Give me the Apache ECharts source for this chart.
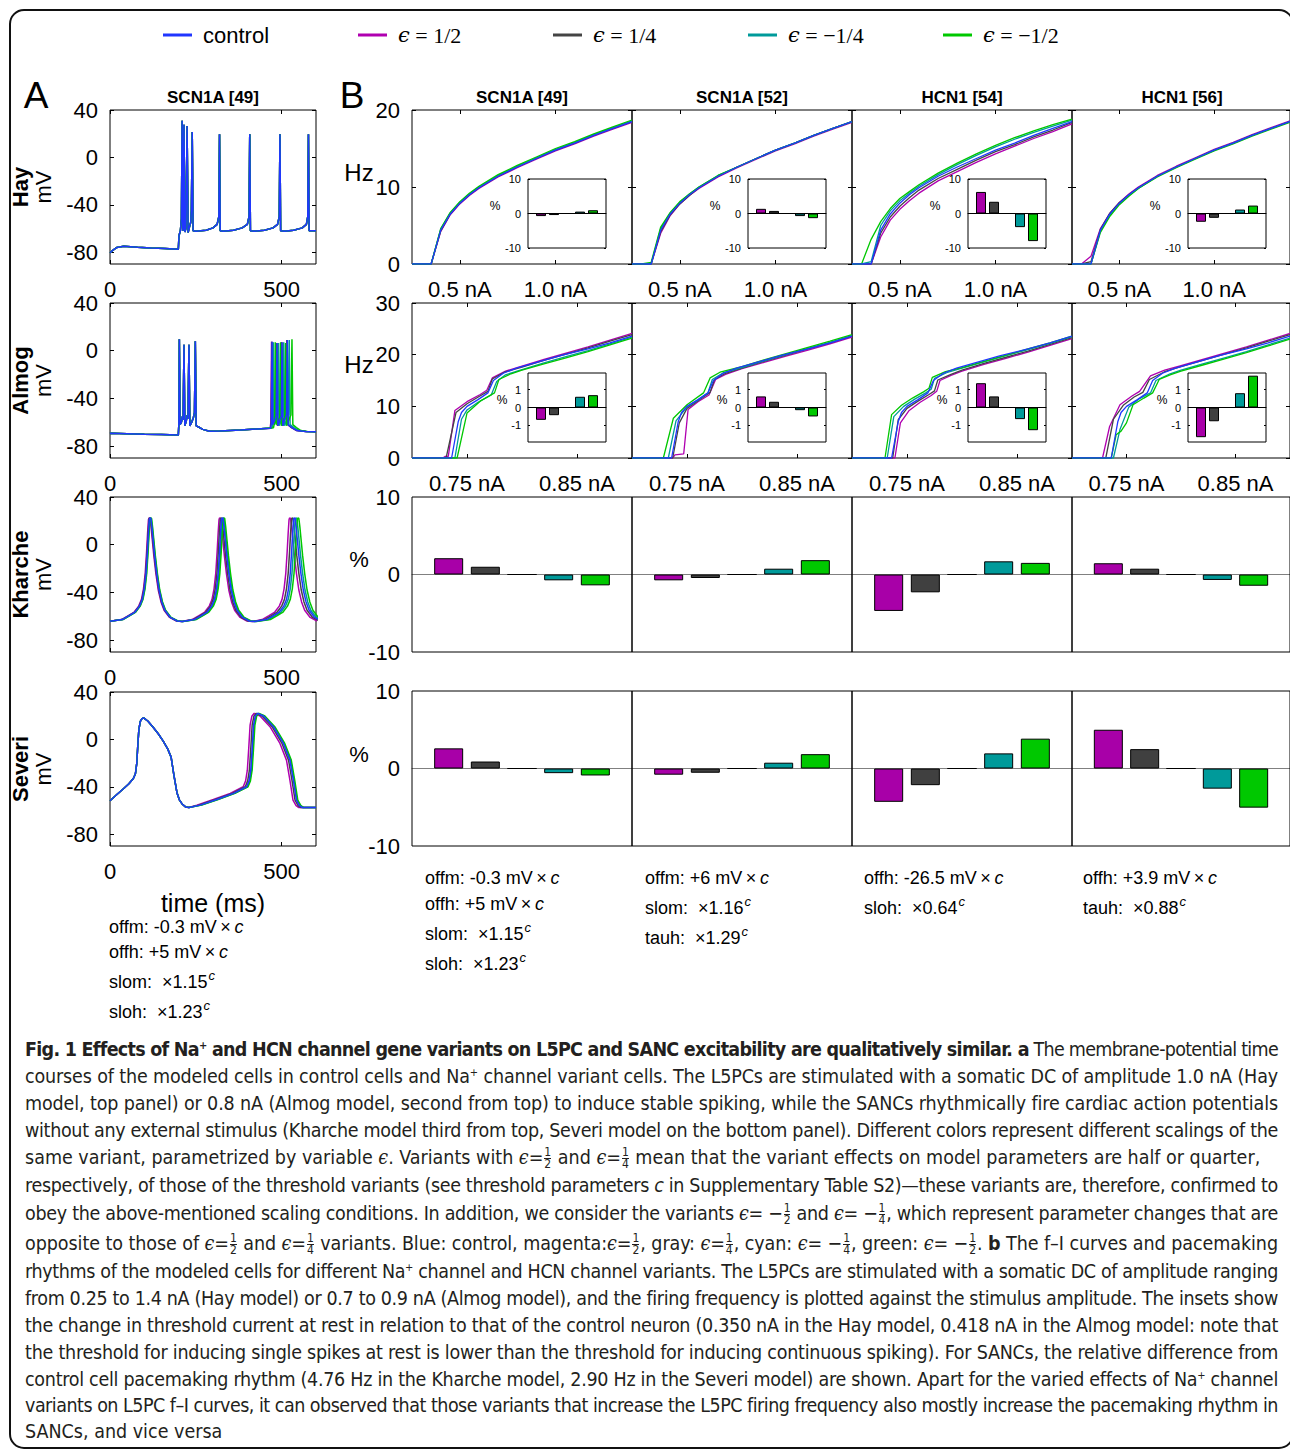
<!DOCTYPE html>
<html><head><meta charset="utf-8">
<script src="https://cdn.jsdelivr.net/npm/echarts@6/dist/echarts.min.js"></script>
<style>
html,body{margin:0;padding:0;background:#fff;}
#chart{position:absolute;left:0;top:0;width:1290px;height:1450px;}
#cap{position:absolute;left:0;top:0;width:1290px;height:1450px;pointer-events:none;
 font-family:'Liberation Sans Narrow','DejaVu Sans Condensed','Roboto Condensed','Liberation Sans',sans-serif;
 font-stretch:condensed;font-size:19.5px;color:#231f20;}
.ln{position:absolute;left:25px;white-space:nowrap;line-height:24px;height:24px;}
.ln b{font-weight:bold;}
sup{font-size:11px;vertical-align:7px;line-height:0;}
.fr{display:inline-flex;flex-direction:column;vertical-align:middle;font-size:12px;line-height:11px;text-align:center;margin:0 1px;}
.fr span:first-child{border-bottom:1px solid #231f20;}
.ep{font-style:italic;font-family:'DejaVu Serif','Liberation Serif',serif;}
</style></head><body>
<div id="chart"></div>
<div id="cap">
<div class="ln j" style="top:1038px"><span><b>Fig. 1 Effects of Na<sup>+</sup> and HCN channel gene variants on L5PC and SANC excitability are qualitatively similar. a</b> The membrane-potential time</span></div>
<div class="ln j" style="top:1065px"><span>courses of the modeled cells in control cells and Na<sup>+</sup> channel variant cells. The L5PCs are stimulated with a somatic DC of amplitude 1.0 nA (Hay</span></div>
<div class="ln j" style="top:1092px"><span>model, top panel) or 0.8 nA (Almog model, second from top) to induce stable spiking, while the SANCs rhythmically fire cardiac action potentials</span></div>
<div class="ln j" style="top:1119px"><span>without any external stimulus (Kharche model third from top, Severi model on the bottom panel). Different colors represent different scalings of the</span></div>
<div class="ln" style="top:1146px"><span>same variant, parametrized by variable <span class="ep">ϵ</span>. Variants with <span class="ep">ϵ</span>=<span class="fr"><span>1</span><span>2</span></span> and <span class="ep">ϵ</span>=<span class="fr"><span>1</span><span>4</span></span> mean that the variant effects on model parameters are half or quarter,</span></div>
<div class="ln j" style="top:1174px"><span>respectively, of those of the threshold variants (see threshold parameters <i>c</i> in Supplementary Table S2)—these variants are, therefore, confirmed to</span></div>
<div class="ln j" style="top:1202px"><span>obey the above-mentioned scaling conditions. In addition, we consider the variants <span class="ep">ϵ</span>= −<span class="fr"><span>1</span><span>2</span></span> and <span class="ep">ϵ</span>= −<span class="fr"><span>1</span><span>4</span></span>, which represent parameter changes that are</span></div>
<div class="ln j" style="top:1232px"><span>opposite to those of <span class="ep">ϵ</span>=<span class="fr"><span>1</span><span>2</span></span> and <span class="ep">ϵ</span>=<span class="fr"><span>1</span><span>4</span></span> variants. Blue: control, magenta:<span class="ep">ϵ</span>=<span class="fr"><span>1</span><span>2</span></span>, gray: <span class="ep">ϵ</span>=<span class="fr"><span>1</span><span>4</span></span>, cyan: <span class="ep">ϵ</span>= −<span class="fr"><span>1</span><span>4</span></span>, green: <span class="ep">ϵ</span>= −<span class="fr"><span>1</span><span>2</span></span>. <b>b</b> The f–I curves and pacemaking</span></div>
<div class="ln j" style="top:1260px"><span>rhythms of the modeled cells for different Na<sup>+</sup> channel and HCN channel variants. The L5PCs are stimulated with a somatic DC of amplitude ranging</span></div>
<div class="ln j" style="top:1287px"><span>from 0.25 to 1.4 nA (Hay model) or 0.7 to 0.9 nA (Almog model), and the firing frequency is plotted against the stimulus amplitude. The insets show</span></div>
<div class="ln j" style="top:1314px"><span>the change in threshold current at rest in relation to that of the control neuron (0.350 nA in the Hay model, 0.418 nA in the Almog model: note that</span></div>
<div class="ln j" style="top:1341px"><span>the threshold for inducing single spikes at rest is lower than the threshold for inducing continuous spiking). For SANCs, the relative difference from</span></div>
<div class="ln j" style="top:1368px"><span>control cell pacemaking rhythm (4.76 Hz in the Kharche model, 2.90 Hz in the Severi model) are shown. Apart for the varied effects of Na<sup>+</sup> channel</span></div>
<div class="ln j" style="top:1394px"><span>variants on L5PC f–I curves, it can observed that those variants that increase the L5PC firing frequency also mostly increase the pacemaking rhythm in</span></div>
<div class="ln" style="top:1420px"><span>SANCs, and vice versa</span></div>
</div>
<script>
// ---------------- DATA ----------------
const legendNames = ['control', 'ϵ = 1/2', 'ϵ = 1/4', 'ϵ = −1/4', 'ϵ = −1/2'];
const lineColors = ['#2036ff', '#b000b0', '#444444', '#009a9a', '#00c800'];
const barColors = ['#a800a8', '#404040', '#2036ff', '#009a9a', '#00c800']; // m, g, control, c, n
const barX = [1, 2, 3, 4, 5];
const colTitles = ['SCN1A [49]', 'SCN1A [52]', 'HCN1 [54]', 'HCN1 [56]'];
const rowNamesA = ['Hay', 'Almog', 'Kharche', 'Severi'];

// Panel A — Hay (all variants overlap)
const hayTrace = [[0,-80.5],[8,-78.5],[20,-76],[40,-75],[80,-75.8],[120,-76.5],[160,-77],[199,-77.5],[201,-66],[205,-62],[208,-52],[210,31],[212,-62],[213.5,-60],[215.5,27.5],[218,-63],[221,-60],[224.5,26.5],[227.5,-63.5],[232,-58],[235,-55],[237,-45],[239.5,21.5],[242,-62],[250,-62.3],[280,-61.5],[300,-59.5],[312,-56.5],[317,-50],[319,19.5],[321,-62],[330,-62.3],[360,-61.5],[385,-59.5],[400,-56.5],[405,-50],[407,19.5],[409,-62],[420,-62.3],[450,-61.5],[475,-59.5],[488,-56.5],[493,-50],[495,19.5],[497,-62],[508,-62.3],[535,-61.5],[560,-59.5],[572,-56.5],[576,-50],[578,19.5],[580,-62],[600,-62]];

// Panel A — Almog
const almogPre = [[0,-69.5],[3,-69.2],[50,-69.6],[100,-70],[150,-70.3],[199,-70.7],[200.5,-62],[202,9.5],[204,-62],[208,-60],[211,-55],[213,-58],[215.5,5],[218,-63],[222,-59],[225,-54],[227,-57],[230,5],[232.5,-63],[238,-60],[243,-56],[246,-52],[248.5,8],[251,-63],[258,-64],[270,-66],[290,-67.5],[320,-67.3],[380,-66.5],[440,-65.5]];
const almogB_ctrl = [[468,-65],[470,-60],[472,7.5],[474,-62],[480,-58],[484,-55],[486.5,6.5],[489,-63],[495,-58],[499,-55],[501,7],[503.5,-63],[509,-58],[514,-54],[516.5,9],[519,-62],[530,-64.5],[545,-67],[570,-67.8],[600,-68]];
const almogB_m = [[466.5,-65],[468.5,-60],[470.5,7.5],[472.5,-62],[478.5,-58],[482.5,-55],[485,6.5],[487.5,-63],[493.5,-58],[497.5,-55],[499.5,7],[502,-63],[507.5,-58],[512.5,-54],[515,9],[517.5,-62],[528.5,-64.5],[543.5,-67],[570,-67.8],[600,-68]];
const almogB_g = [[467.5,-65],[469.5,-60],[471.5,7.5],[473.5,-62],[479.5,-58],[483.5,-55],[486,6.5],[488.5,-63],[494.5,-58],[498.5,-55],[500.5,7],[503,-63],[508.5,-58],[513.5,-54],[516,9],[518.5,-62],[529.5,-64.5],[544.5,-67],[570,-67.8],[600,-68]];
const almogB_c = [[472,-64.8],[474,-60],[476,7],[478.5,-62],[484,-58],[488.5,-55],[491,6.5],[493.5,-63],[499,-58],[503.5,-55],[506,7],[508.5,-63],[515,-58],[519.5,-54],[522,9],[524.5,-62],[536,-64.5],[550,-67],[572,-67.8],[600,-68]];
const almogB_n = [[476,-64.6],[479.5,-60],[481.5,7],[484,-62],[490,-58],[494.5,-55],[497,7],[499.5,-63],[505,-58],[509,-55],[511.5,6.5],[514,-63],[521,-58],[527,-54],[530,9.5],[532.5,-62],[543,-64.5],[556,-67],[575,-67.8],[600,-68]];

// Panel A — Kharche (shared voltage shape, per-variant times)
const kV = [-64.3,-62.8,-59.5,-56.5,-51.5,-46,-37,-24,-6,10,21,22.5,22,15,3,-9,-24,-38,-48,-55,-61,-64,-64.5, -62.8,-59.5,-56.5,-51.5,-46,-37,-24,-6,10,21,22.5,22,15,3,-9,-24,-38,-48,-55,-61,-64,-64.5, -62.8,-59.5,-56.5,-51.5,-46,-37,-24,-6,10,21,22.5,22,15,3,-9,-24,-38,-48,-55,-61,-64];
const kT_ctrl = [0,36,56,73,86,94,100,105,109,112,114.5,116,119,122,126,130,136,143,151,160,176,196,211, 246,266,283,296,304,310,315,319,322,324.5,326,329,332,336,340,346,353,361,370,386,406,421, 456,476,493,506,514,520,525,529,532,534.5,536,539,542,546,550,556,563,571,580,596,616];
const kT_m = [0,33.5,53.5,70.5,83.5,91.5,97.5,102.5,106.5,109.5,112,113.5,116.5,119.5,123.5,127.5,133.5,140.5,148.5,157.5,173.5,193.5,208.5, 239,259,276,289,297,303,308,312,315,317.5,319,322,325,329,333,339,346,354,363,379,399,414, 443,463,480,493,501,507,512,516,519,521.5,523,526,529,533,537,543,550,558,567,583,603];
const kT_g = [0,35,55,72,85,93,99,104,108,111,113.5,115,118,121,125,129,135,142,150,159,175,195,210, 242.5,262.5,279.5,292.5,300.5,306.5,311.5,315.5,318.5,321,322.5,325.5,328.5,332.5,336.5,342.5,349.5,357.5,366.5,382.5,402.5,417.5, 450,470,487,500,508,514,519,523,526,528.5,530,533,536,540,544,550,557,565,574,590,610];
const kT_c = [0,37,57,74,87,95,101,106,110,113,115.5,117,120,123,127,131,137,144,152,161,177,197,212, 248.5,268.5,285.5,298.5,306.5,312.5,317.5,321.5,324.5,327,328.5,331.5,334.5,338.5,342.5,348.5,355.5,363.5,372.5,388.5,408.5,423.5, 461,481,498,511,519,525,530,534,537,539.5,541,544,547,551,555,561,568,576,585,601,621];
const kT_n = [0,38,58,75,88,96,102,107,111,114,116.5,118,121,124,128,132,138,145,153,162,178,198,213, 251,271,288,301,309,315,320,324,327,329.5,331,334,337,341,345,351,358,366,375,391,411,426, 467,487,504,517,525,531,536,540,543,545.5,547,550,553,557,561,567,574,582,591,607,627];

// Panel A — Severi (shared voltage shape, first cycle shared times, second part per variant)
const sevV = [-51.8,-46.5,-41.5,-37.5,-33,-29,-20,-5,8,15,17.5,18.2,15.5,10.5,5,-1.5,-8,-15,-30,-45,-51,-54.5,-57,-57.5, -55.5,-50.7,-45.6,-40,-35,-26,-8,12,19.5,22,19.7,10.7,-3.4,-17.5,-34.4,-51.3,-56,-57.5,-57.5,-57.5];
const sevT1 = [0,20,40,55,68,74,78,81,84,88,93,98,110,125,140,155,168,178,186,195,202,210,220,230];
const sevT2_ctrl = [263,311,360,398,405,410,414,418,423,430,447,476,505,524,534,543,552,560,580,600];
const sevT2_m = [253,301,350,388,395,400,404,408,413,420,437,466,495,514,524,533,542,550,570,600];
const sevT2_g = [259,307,356,394,401,406,410,414,419,426,443,472,501,520,530,539,548,556,576,600];
const sevT2_c = [265,313,362,400,407,412,416,420,425,432,449,478,507,526,536,545,554,562,582,600];
const sevT2_n = [267,315,364,402,409,414,418,422,427,434,451,480,509,528,538,547,556,564,584,600];

// Panel B row 1 — Hay f–I (current grid, Hz per variant)
const hayI = [0.25,0.30,0.35,0.40,0.45,0.50,0.55,0.60,0.70,0.80,0.90,1.00,1.10,1.20,1.30,1.40];
const hayCtrl = [0,0,0,4.4,6.5,7.9,9.0,9.9,11.4,12.6,13.7,14.8,15.7,16.7,17.6,18.5];
const hay49_m = [0,0,0,4.2,6.4,7.8,8.9,9.8,11.3,12.5,13.6,14.7,15.6,16.6,17.5,18.4];
const hay49_g = [0,0,0,4.3,6.5,7.9,9.0,9.9,11.4,12.6,13.7,14.8,15.7,16.7,17.6,18.5];
const hay49_c = [0,0,0,4.5,6.6,8.0,9.1,10.0,11.5,12.7,13.8,14.9,15.8,16.8,17.7,18.6];
const hay49_n = [0,0,0,4.6,6.7,8.1,9.2,10.1,11.6,12.8,13.9,15.0,15.9,16.9,17.8,18.7];
const hay52_m = [0,0,0,4.0,6.3,7.8,8.9,9.8,11.3,12.5,13.6,14.7,15.6,16.6,17.5,18.4];
const hay52_g = [0,0,0,4.2,6.4,7.8,8.9,9.9,11.4,12.6,13.7,14.8,15.7,16.7,17.6,18.5];
const hay52_c = [0,0,0,4.6,6.6,8.0,9.1,10.0,11.5,12.6,13.7,14.8,15.7,16.7,17.6,18.5];
const hay52_n = [0,0,0.2,4.8,6.7,8.1,9.1,10.0,11.5,12.6,13.7,14.8,15.7,16.7,17.6,18.5];
const hay54_m = [0,0,0,3.5,5.7,7.1,8.2,9.2,10.8,12.0,13.2,14.3,15.3,16.3,17.2,18.2];
const hay54_g = [0,0,0,4.0,6.1,7.5,8.6,9.6,11.1,12.3,13.5,14.6,15.5,16.5,17.4,18.4];
const hay54_c = [0,0,0.3,5.0,6.9,8.2,9.2,10.1,11.6,12.9,14.1,15.2,16.2,17.1,17.9,18.7];
const hay54_n = [0,0,3.2,5.5,7.2,8.5,9.4,10.3,11.8,13.1,14.3,15.4,16.4,17.3,18.1,18.8];
const hay56_m = [0,0,1.0,4.6,6.6,8.0,9.1,10.0,11.5,12.7,13.8,14.9,15.8,16.8,17.7,18.6];
const hay56_g = [0,0,0.3,4.5,6.6,8.0,9.0,9.9,11.4,12.6,13.7,14.8,15.7,16.7,17.6,18.5];
const hay56_c = [0,0,0,4.3,6.4,7.8,8.9,9.8,11.4,12.6,13.7,14.8,15.7,16.7,17.6,18.5];
const hay56_n = [0,0,0,4.1,6.2,7.7,8.8,9.8,11.3,12.5,13.6,14.7,15.6,16.6,17.5,18.4];

// Panel B row 2 — Almog f–I ([nA, Hz])
const almogCtrlFI = [[0.70,0],[0.736,0],[0.742,7],[0.745,8.8],[0.75,10],[0.76,11.3],[0.769,12.6],[0.774,15],[0.783,16.4],[0.795,17.4],[0.815,18.6],[0.835,19.8],[0.86,21.1],[0.88,22.3],[0.90,23.6]];
const alm49_m = [[0.70,0],[0.728,0],[0.73,0.3],[0.733,0.3],[0.739,9.2],[0.75,10.9],[0.762,12.3],[0.768,13.1],[0.773,15.5],[0.785,16.8],[0.80,17.8],[0.82,19.1],[0.84,20.3],[0.86,21.5],[0.88,22.8],[0.90,24.1]];
const alm49_g = [[0.70,0],[0.731,0],[0.74,8.8],[0.75,10.5],[0.761,11.9],[0.769,12.9],[0.773,15.3],[0.784,16.6],[0.80,17.6],[0.82,18.9],[0.84,20.1],[0.86,21.3],[0.88,22.6],[0.90,23.9]];
const alm49_c = [[0.70,0],[0.739,0],[0.745,7.5],[0.75,9.3],[0.76,10.8],[0.772,12.2],[0.777,14.8],[0.785,16.1],[0.80,17.1],[0.82,18.4],[0.84,19.6],[0.86,20.8],[0.88,22.1],[0.90,23.4]];
const alm49_n = [[0.70,0],[0.741,0],[0.75,8.7],[0.762,11.0],[0.775,12.6],[0.779,15.2],[0.79,16.3],[0.80,17.0],[0.82,18.2],[0.84,19.4],[0.86,20.6],[0.88,21.9],[0.90,23.2]];
const alm52_m = [[0.70,0],[0.737,0],[0.739,0.6],[0.747,0.8],[0.751,9.4],[0.76,10.9],[0.77,12.2],[0.776,15.2],[0.785,16.2],[0.80,17.3],[0.82,18.5],[0.84,19.7],[0.86,20.9],[0.88,22.1],[0.90,23.4]];
const alm52_g = [[0.70,0],[0.737,0],[0.743,6.8],[0.75,9.6],[0.762,11.4],[0.771,12.7],[0.775,15.2],[0.785,16.4],[0.80,17.4],[0.82,18.7],[0.84,19.9],[0.86,21.1],[0.88,22.3],[0.90,23.6]];
const alm52_c = [[0.70,0],[0.733,0],[0.74,7.2],[0.75,9.9],[0.76,11.2],[0.769,12.6],[0.773,15.2],[0.783,16.5],[0.80,17.5],[0.82,18.8],[0.84,20.0],[0.86,21.2],[0.88,22.4],[0.90,23.7]];
const alm52_n = [[0.70,0],[0.7285,0],[0.7376,7.7],[0.75,10.3],[0.765,12.6],[0.771,15.5],[0.78,16.6],[0.80,17.7],[0.82,19.0],[0.84,20.2],[0.86,21.4],[0.88,22.6],[0.90,23.9]];
const alm54_m = [[0.70,0],[0.739,0],[0.744,6.8],[0.752,9.2],[0.762,10.8],[0.772,12.1],[0.777,12.9],[0.78,15.0],[0.79,16.0],[0.80,16.8],[0.82,18.1],[0.84,19.3],[0.86,20.5],[0.88,21.8],[0.90,23.1]];
const alm54_g = [[0.70,0],[0.737,0],[0.742,7.4],[0.75,9.6],[0.76,11.0],[0.77,12.3],[0.775,13.0],[0.778,15.1],[0.79,16.2],[0.80,17.0],[0.82,18.3],[0.84,19.5],[0.86,20.7],[0.88,22.0],[0.90,23.3]];
const alm54_c = [[0.70,0],[0.732,0],[0.738,8.0],[0.747,10.0],[0.757,11.4],[0.767,12.6],[0.772,13.3],[0.775,15.4],[0.786,16.5],[0.80,17.4],[0.82,18.6],[0.84,19.8],[0.86,21.0],[0.88,22.2],[0.90,23.5]];
const alm54_n = [[0.70,0],[0.730,0],[0.736,8.4],[0.745,10.2],[0.755,11.6],[0.765,12.8],[0.77,13.5],[0.773,15.6],[0.785,16.7],[0.80,17.5],[0.82,18.7],[0.84,19.9],[0.86,21.1],[0.88,22.3],[0.90,23.6]];
const alm56_m = [[0.70,0],[0.728,0],[0.7345,6.1],[0.744,10.3],[0.755,12.0],[0.762,12.9],[0.768,14.7],[0.772,15.9],[0.785,17.0],[0.80,17.9],[0.82,19.1],[0.84,20.3],[0.86,21.5],[0.88,22.8],[0.90,24.1]];
const alm56_g = [[0.70,0],[0.731,0],[0.738,7.5],[0.747,10.2],[0.757,11.8],[0.765,12.7],[0.771,15.2],[0.785,16.7],[0.80,17.7],[0.82,18.9],[0.84,20.1],[0.86,21.3],[0.88,22.6],[0.90,23.9]];
const alm56_c = [[0.70,0],[0.738,0],[0.744,5.5],[0.752,9.8],[0.762,11.5],[0.772,12.6],[0.777,15.0],[0.79,16.3],[0.80,17.0],[0.82,18.2],[0.84,19.4],[0.86,20.6],[0.88,21.9],[0.90,23.2]];
const alm56_n = [[0.70,0],[0.736,0],[0.7405,4.5],[0.745,5.2],[0.75,6.8],[0.756,10.3],[0.766,11.6],[0.774,12.6],[0.78,15.2],[0.79,16.1],[0.80,16.8],[0.82,18.0],[0.84,19.2],[0.86,20.4],[0.88,21.7],[0.90,23.0]];

// Bars (order: ϵ=1/2, ϵ=1/4, control, ϵ=−1/4, ϵ=−1/2), % change
const insetHay = [[-0.75,-0.45,0,0.55,0.95],[1.35,0.75,0,-0.75,-1.35],[6.25,3.4,0,-3.95,-8.0],[-2.4,-1.25,0,1.15,2.3]];
const insetAlmog = [[-0.69,-0.43,0,0.6,0.69],[0.62,0.32,0,-0.15,-0.5],[1.36,0.62,0,-0.65,-1.27],[-1.66,-0.77,0,0.8,1.78]];
const kharcheBars = [[2.1,1.0,0,-0.75,-1.4],[-0.75,-0.45,0,0.75,1.85],[-4.7,-2.3,0,1.7,1.5],[1.45,0.75,0,-0.7,-1.45]];
const severiBars = [[2.6,0.9,0,-0.6,-0.9],[-0.8,-0.55,0,0.75,1.85],[-4.3,-2.15,0,1.95,3.85],[5.0,2.5,0,-2.6,-5.05]];

// Parameter notes
const notesA = ['offm: -0.3 mV\u2009{x|×}\u2009{i|c}', 'offh: +5 mV\u2009{x|×}\u2009{i|c}', 'slom:  {x|×}1.15{s|c}', 'sloh:  {x|×}1.23{s|c}'];
const notesB = [
  ['offm: -0.3 mV\u2009{x|×}\u2009{i|c}', 'offh: +5 mV\u2009{x|×}\u2009{i|c}', 'slom:  {x|×}1.15{s|c}', 'sloh:  {x|×}1.23{s|c}'],
  ['offm: +6 mV\u2009{x|×}\u2009{i|c}', 'slom:  {x|×}1.16{s|c}', 'tauh:  {x|×}1.29{s|c}'],
  ['offh: -26.5 mV\u2009{x|×}\u2009{i|c}', 'sloh:  {x|×}0.64{s|c}'],
  ['offh: +3.9 mV\u2009{x|×}\u2009{i|c}', 'tauh:  {x|×}0.88{s|c}']
];

// ---------------- BUILD ----------------
const FONT = "'Liberation Sans', Arial, Helvetica, sans-serif";
const grids = [], xAxes = [], yAxes = [], series = [], graphics = [];

function plot(o) {
  const gi = grids.length;
  grids.push({left:o.l, top:o.t, width:o.w, height:o.h, show:true, borderColor:'#000', borderWidth:1,
    backgroundColor:o.bg || 'rgba(0,0,0,0)', z:o.z || 2});
  const az = o.az || 0, fs = o.fs || 22;
  const xi = xAxes.length;
  xAxes.push({type:'value', gridIndex:gi, min:o.xr[0], max:o.xr[1], position:'bottom', z:az,
    axisLine:{show:!!o.zeroLine, onZero:!!o.zeroLine, lineStyle:{color:o.zeroLine || '#000', width:1}},
    splitLine:{show:false},
    axisTick:{show:!!o.xt, inside:true, length:4, customValues:o.xt, lineStyle:{color:'#000'}},
    axisLabel:{show:!!o.xl, customValues:o.xt, formatter:o.xl || '{value}', margin:14, color:'#000', fontSize:fs, fontFamily:FONT},
    name:o.xname || '', nameLocation:'middle', nameGap:o.xnameGap || 40,
    nameTextStyle:{fontSize:25, color:'#000', fontFamily:FONT}});
  if (o.xt) xAxes.push({type:'value', gridIndex:gi, min:o.xr[0], max:o.xr[1], position:'top', z:az,
    axisLine:{show:false, onZero:false}, splitLine:{show:false},
    axisTick:{show:true, inside:true, length:4, customValues:o.xt, lineStyle:{color:'#000'}},
    axisLabel:{show:false}});
  const yi = yAxes.length;
  const showYT = !!o.yt && o.ytick !== false;
  yAxes.push({type:'value', gridIndex:gi, min:o.yr[0], max:o.yr[1], position:'left', z:az,
    axisLine:{show:false, onZero:false}, splitLine:{show:false},
    axisTick:{show:showYT, inside:true, length:o.tl || 4, customValues:o.yt, lineStyle:{color:'#000'}},
    axisLabel:{show:!!o.yl, customValues:o.yt, margin:o.ym || 12, color:'#000', fontSize:o.yfs || fs, fontFamily:FONT}});
  if (showYT) yAxes.push({type:'value', gridIndex:gi, min:o.yr[0], max:o.yr[1], position:'right', z:az,
    axisLine:{show:false, onZero:false}, splitLine:{show:false},
    axisTick:{show:true, inside:true, length:o.tl || 4, customValues:o.yt, lineStyle:{color:'#000'}},
    axisLabel:{show:false}});
  return {xi, yi};
}
function addLines(pos, list, lw) { // list order: control, m, g, c, n ; draw control last
  [1,2,3,4,0].forEach(ci => {
    series.push({type:'line', name:legendNames[ci], xAxisIndex:pos.xi, yAxisIndex:pos.yi, data:list[ci],
      symbol:'none', showSymbol:false, lineStyle:{color:lineColors[ci], width:lw}, itemStyle:{color:lineColors[ci]},
      z:2, silent:true, animation:false});
  });
}
function addBars(pos, vals, bw, z) {
  series.push({type:'bar', name:'bars', xAxisIndex:pos.xi, yAxisIndex:pos.yi, barWidth:bw, z:z, silent:true, animation:false,
    data: vals.map((v,i) => ({value:[barX[i], v], itemStyle:{color:barColors[i], borderColor:'#000', borderWidth:1}}))});
}
const zip = (ts, vs) => ts.map((t,i) => [t, vs[i]]);
const pairs = ys => hayI.map((x,i) => [x, ys[i]]);
function text(t, x, y, size, extra) {
  graphics.push(Object.assign({type:'text', x:x, y:y, z:100, silent:true,
    style:Object.assign({text:t, fill:'#000', fontSize:size, fontFamily:FONT, textAlign:'center', textVerticalAlign:'middle', align:'center', verticalAlign:'middle'}, extra && extra.style || {})},
    extra && extra.el || {}));
}

// Panel A
const aTop = [110, 303, 497, 692], aH = [154, 155, 155, 154];
const aData = [
  [hayTrace, hayTrace, hayTrace, hayTrace, hayTrace],
  [almogPre.concat(almogB_ctrl), almogPre.concat(almogB_m), almogPre.concat(almogB_g), almogPre.concat(almogB_c), almogPre.concat(almogB_n)],
  [zip(kT_ctrl,kV), zip(kT_m,kV), zip(kT_g,kV), zip(kT_c,kV), zip(kT_n,kV)],
  [zip(sevT1.concat(sevT2_ctrl),sevV), zip(sevT1.concat(sevT2_m),sevV), zip(sevT1.concat(sevT2_g),sevV), zip(sevT1.concat(sevT2_c),sevV), zip(sevT1.concat(sevT2_n),sevV)]
];
for (let i = 0; i < 4; i++) {
  const p = plot({l:110, t:aTop[i], w:206, h:aH[i], xr:[0,600], yr:[-90,40], xt:[0,500], xl:'{value}',
    yt:[-80,-40,0,40], yl:true, xname:i === 3 ? 'time (ms)' : '', xnameGap:44});
  addLines(p, aData[i], 1.5);
  const cy = aTop[i] + aH[i] / 2;
  text(rowNamesA[i], 20, cy, 22, {style:{fontWeight:'bold'}, el:{rotation:Math.PI/2}});
  text('mV', 43, cy, 22, {el:{rotation:Math.PI/2}});
}

// Panel B
const colX = [412, 632, 852, 1072];
const fiHay = [
  [pairs(hayCtrl), pairs(hay49_m), pairs(hay49_g), pairs(hay49_c), pairs(hay49_n)],
  [pairs(hayCtrl), pairs(hay52_m), pairs(hay52_g), pairs(hay52_c), pairs(hay52_n)],
  [pairs(hayCtrl), pairs(hay54_m), pairs(hay54_g), pairs(hay54_c), pairs(hay54_n)],
  [pairs(hayCtrl), pairs(hay56_m), pairs(hay56_g), pairs(hay56_c), pairs(hay56_n)]
];
const fiAlm = [
  [almogCtrlFI, alm49_m, alm49_g, alm49_c, alm49_n],
  [almogCtrlFI, alm52_m, alm52_g, alm52_c, alm52_n],
  [almogCtrlFI, alm54_m, alm54_g, alm54_c, alm54_n],
  [almogCtrlFI, alm56_m, alm56_g, alm56_c, alm56_n]
];
for (let j = 0; j < 4; j++) {
  const L = colX[j];
  const p1 = plot({l:L, t:110, w:220, h:154, xr:[0.25,1.4], yr:[0,20], xt:[0.5,1.0], xl:v => v.toFixed(1) + ' nA', yt:[0,10,20], yl:j === 0});
  addLines(p1, fiHay[j], 1.3);
  const p2 = plot({l:L, t:303, w:220, h:155, xr:[0.7,0.9], yr:[0,30], xt:[0.75,0.85], xl:v => v.toFixed(2) + ' nA', yt:[0,10,20,30], yl:j === 0});
  addLines(p2, fiAlm[j], 1.3);
  const p3 = plot({l:L, t:497, w:220, h:155, xr:[0,6], yr:[-10,10], yt:[-10,0,10], yl:j === 0, ytick:false, zeroLine:'#808080'});
  addBars(p3, kharcheBars[j], 29, 3);
  const p4 = plot({l:L, t:691, w:220, h:155, xr:[0,6], yr:[-10,10], yt:[-10,0,10], yl:j === 0, ytick:false, zeroLine:'#808080'});
  addBars(p4, severiBars[j], 29, 3);
  const i1 = plot({l:L+116, t:179, w:78, h:69, xr:[0,6], yr:[-10,10], yt:[-10,0,10], yl:true, yfs:11, ym:7, tl:2, zeroLine:'#000', bg:'#fff', z:6, az:8});
  addBars(i1, insetHay[j], 10, 7);
  const i2 = plot({l:L+116, t:373, w:78, h:69, xr:[0,6], yr:[-1.93,1.93], yt:[-1,0,1], yl:true, yfs:11, ym:7, tl:2, zeroLine:'#000', bg:'#fff', z:6, az:8});
  addBars(i2, insetAlmog[j], 10, 7);
  text('%', L + 83, 206, 12);
  text('%', L + 90, 400, 12);
  text(colTitles[j], L + 110, 97, 17, {style:{fontWeight:'bold'}});
}

// Labels
text('A', 36, 95, 37);
text('B', 352, 95, 37);
text('SCN1A [49]', 213, 97, 17, {style:{fontWeight:'bold'}});
text('Hz', 359, 172, 24);
text('Hz', 359, 364, 24);
text('%', 359, 559, 22);
text('%', 359, 754, 22);

const noteRich = {
  x:{fontSize:18, fontFamily:FONT, lineHeight:26},
  i:{fontSize:18, fontFamily:FONT, fontStyle:'italic', lineHeight:26},
  s:{fontSize:13, fontFamily:FONT, fontStyle:'italic', lineHeight:14, verticalAlign:'top', padding:[0,0,0,1]}
};
function note(t, x, y) {
  graphics.push({type:'text', x:x, y:y, z:100, silent:true,
    style:{text:t, fill:'#000', fontSize:18, fontFamily:FONT, lineHeight:26, rich:noteRich,
      textAlign:'left', align:'left', textVerticalAlign:'middle', verticalAlign:'middle'}});
}
const notesAY = [927, 952, 982, 1012];
notesA.forEach((t,i) => note(t, 109, notesAY[i]));
const notesBY = [[878, 904, 934, 964], [878, 908, 938], [878, 908], [878, 908]];
const notesBX = [425, 645, 864, 1083];
notesB.forEach((col,j) => col.forEach((t,i) => note(t, notesBX[j], notesBY[j][i])));

// Outer rounded frame (right side runs past the page edge)
graphics.push({type:'rect', z:0, silent:true, shape:{x:10, y:10, width:1283, height:1438, r:14},
  style:{fill:'none', stroke:'#111', lineWidth:2}});

// One legend per item so the items sit at a fixed 195 px pitch
const legendRich = {
  c:{fontSize:22, fontFamily:FONT, color:'#000'},
  e:{fontSize:21, fontFamily:"'DejaVu Serif','Liberation Serif',serif", fontStyle:'italic', color:'#000'},
  m:{fontSize:22, fontFamily:"'Liberation Serif','DejaVu Serif',serif", color:'#000'}
};
const legends = legendNames.map((n, k) => ({
  data:[n], left:163 + 195 * k, top:24, padding:0, icon:'rect', itemWidth:29, itemHeight:3, itemGap:0,
  selectedMode:false,
  formatter: nm => nm === 'control' ? '{c|control}' : '{e|ϵ}{m|' + nm.slice(1) + '}',
  textStyle:{padding:[0,0,0,6], fontSize:22, color:'#000', fontFamily:FONT, rich:legendRich}
}));

const chart = echarts.init(document.getElementById('chart'), null, {renderer:'svg', width:1290, height:1450});
chart.setOption({
  animation:false,
  backgroundColor:'#fff',
  legend:legends,
  grid:grids, xAxis:xAxes, yAxis:yAxes, series:series,
  graphic:{elements:graphics}
});

// Justify caption lines
function justify() {
  const target = 1253;
  document.querySelectorAll('.ln').forEach(el => {
    const sp = el.firstElementChild;
    el.style.wordSpacing = '0px'; el.style.letterSpacing = '0px';
    let w = sp.getBoundingClientRect().width;
    const txt = sp.textContent;
    const nSp = (txt.match(/ /g) || []).length;
    if (w > target) {
      el.style.letterSpacing = ((target - w) / txt.length) + 'px';
      w = sp.getBoundingClientRect().width;
    }
    if (el.classList.contains('j') && nSp) el.style.wordSpacing = ((target - w) / nSp) + 'px';
  });
}
justify();
</script>
</body></html>
